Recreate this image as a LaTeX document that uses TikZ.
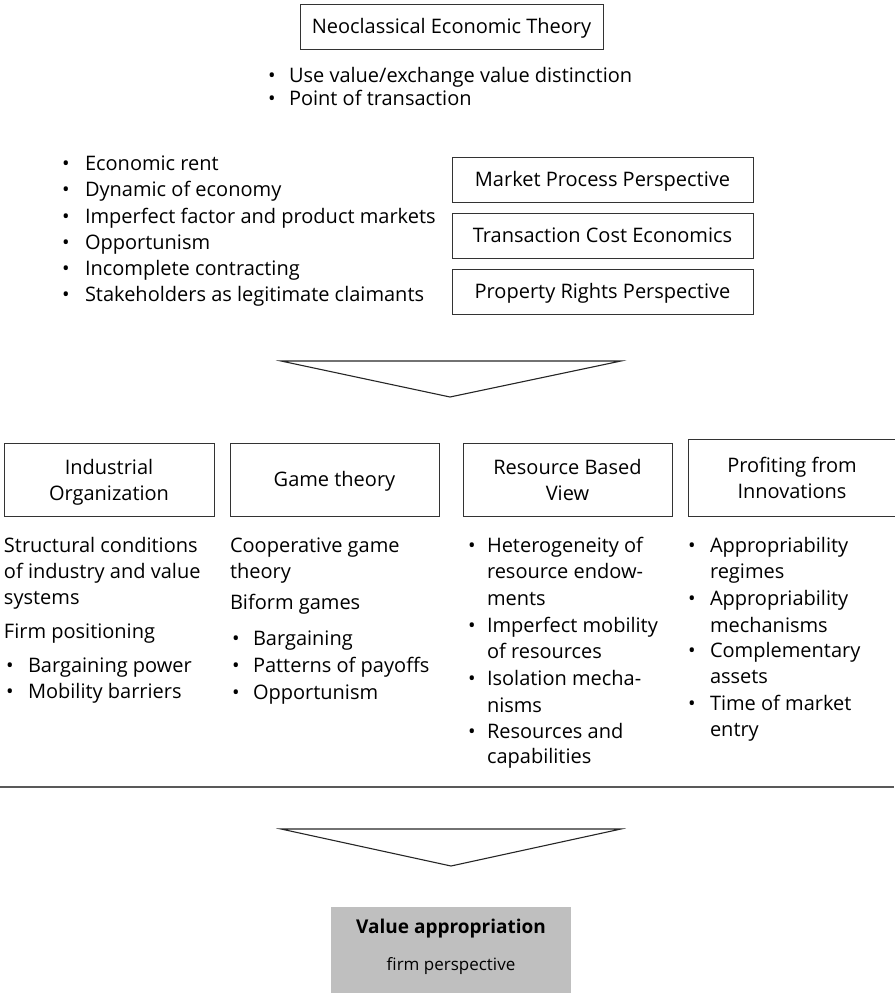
\documentclass[tikz,border=0pt]{standalone}
\usepackage{fontspec}
\setmainfont{Open Sans}
\begin{document}
\begin{tikzpicture}[x=1pt,y=-1pt,
  every node/.style={inner sep=0pt,outer sep=0pt},
  txt/.style={font=\fontsize{20}{26}\selectfont,text height=14.5pt,text depth=4pt,anchor=west},
  bul/.style={txt,anchor=center},
  box/.style={draw=black!80,line width=0.9pt,font=\fontsize{20}{26}\selectfont,align=center},
  onebox/.style={box,text height=18pt,text depth=4pt},
  chev/.style={draw=black!85,line width=1.1pt,line join=miter},
  rule/.style={draw=black!65,line width=2.2pt}]
\useasboundingbox (0,0) rectangle (894,993);

% root theory and its notes
\node[onebox,minimum width=303,minimum height=45] (neo) at (451.5,26.5) {Neoclassical Economic Theory};
\node[bul] (tb1) at (272,77) {•};
\node[txt] (tt1) at (289,77) {Use value/exchange value distinction};
\node[bul] (tb2) at (272,100) {•};
\node[txt] (tt2) at (289,100) {Point of transaction};

% economic concepts
\foreach \y/\t [count=\i] in {165/Economic rent,191/Dynamic of economy,218/Imperfect factor and product markets,244/Opportunism,270/Incomplete contracting,296/Stakeholders as legitimate claimants}
  {\node[bul] (lb\i) at (66,\y) {•};
   \node[txt] (lt\i) at (85,\y) {\t};}

% perspectives
\node[onebox,minimum width=301,minimum height=45] (mpp) at (602.5,179.5) {Market Process Perspective};
\node[onebox,minimum width=301,minimum height=45] (tce) at (602.5,235.5) {Transaction Cost Economics};
\node[onebox,minimum width=301,minimum height=45] (prp) at (602.5,291.5) {Property Rights Perspective};

% first funnel
\coordinate (f1l) at (281,361);
\coordinate (f1r) at (621,361);
\coordinate (f1t) at (450,397);
\draw[chev] (f1l) -- (f1r) -- (f1t) -- cycle;

% research streams
\node[box,minimum width=210,minimum height=73] (io) at (109,479.5) {};
\node[font=\fontsize{20}{26}\selectfont,align=center] (iot) at ([yshift=-3pt]io.center) {Industrial\\Organization};
\node[onebox,minimum width=209,minimum height=73] (gt) at (334.5,479.5) {Game theory};
\node[box,minimum width=209,minimum height=73] (rbv) at (567.5,479.5) {Resource Based\\View};
\node[box,minimum width=208,minimum height=77] (pfi) at (792,477.5) {Profiting from\\Innovations};

% column 1
\foreach \y/\b/\t [count=\i] in {547/0/Structural conditions,573/0/of industry and value,599/0/systems,633/0/Firm positioning,667/1/Bargaining power,693/1/Mobility barriers}
  {\ifnum\b=1
     \node[bul] (ab\i) at (10,\y) {•};
     \node[txt] (at\i) at (28,\y) {\t};
   \else
     \node[txt] (at\i) at (4,\y) {\t};
   \fi}

% column 2
\foreach \y/\b/\t [count=\i] in {547/0/Cooperative game,573/0/theory,604/0/Biform games,640/1/Bargaining,667/1/Patterns of payoffs,694/1/Opportunism}
  {\ifnum\b=1
     \node[bul] (bb\i) at (236,\y) {•};
     \node[txt] (bt\i) at (253,\y) {\t};
   \else
     \node[txt] (bt\i) at (230,\y) {\t};
   \fi}

% column 3
\foreach \y/\b/\t [count=\i] in {547/1/Heterogeneity of,573/0/resource endow-,600/0/ments,627/1/Imperfect mobility,653/0/of resources,680/1/Isolation mecha-,707/0/nisms,733/1/Resources and,758/0/capabilities}
  {\node[txt] (ct\i) at (487,\y) {\t};
   \ifnum\b=1 \node[bul] (cb\i) at (472,\y) {•};\fi}

% column 4
\foreach \y/\b/\t [count=\i] in {547/1/Appropriability,573/0/regimes,600/1/Appropriability,627/0/mechanisms,652/1/Complementary,678/0/assets,705/1/Time of market,731/0/entry}
  {\node[txt] (dt\i) at (710,\y) {\t};
   \ifnum\b=1 \node[bul] (db\i) at (692,\y) {•};\fi}

% separator
\coordinate (sl) at (0,787);
\coordinate (sr) at (894,787);
\draw[rule] (sl) -- (sr);

% second funnel
\coordinate (f2l) at (281,829);
\coordinate (f2r) at (621,829);
\coordinate (f2t) at (451,866);
\draw[chev] (f2l) -- (f2r) -- (f2t) -- cycle;

% outcome
\node[fill=black!25,minimum width=240,minimum height=88] (va) at (451,951) {};
\node[font=\fontsize{19}{24}\selectfont\bfseries,text height=14pt,text depth=4pt] (vat) at (451,928) {Value appropriation};
\node[font=\fontsize{17}{22}\selectfont,text height=12.5pt,text depth=3.5pt] (vas) at (451,966) {firm perspective};
\end{tikzpicture}
\end{document}
